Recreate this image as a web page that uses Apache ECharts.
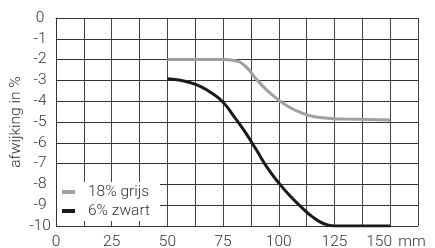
<!DOCTYPE html>
<html>
<head>
<meta charset="utf-8">
<script src="https://cdn.jsdelivr.net/npm/echarts@6/dist/echarts.min.js"></script>
<style>
  html, body { margin: 0; padding: 0; background: #fff; }
  #chart { width: 435px; height: 248px; }
</style>
</head>
<body>
<div id="chart"></div>
<script>
// afstand in mm
const grijsX = [50, 55, 60, 65, 70, 75, 80, 85, 90, 95, 100, 105, 110, 115, 120, 125, 130, 140, 150]
const grijsY = [-2, -2, -2, -2, -2, -2, -2.04, -2.32, -2.95, -3.5, -3.95, -4.3, -4.55, -4.72, -4.8, -4.84, -4.86, -4.88, -4.9]
const zwartX = [50, 55, 60, 65, 70, 75, 80, 85, 90, 95, 100, 105, 110, 115, 120, 125, 130, 140, 150]
const zwartY = [-2.92, -2.98, -3.1, -3.3, -3.62, -4.05, -4.75, -5.5, -6.35, -7.22, -7.93, -8.55, -9.08, -9.55, -9.88, -10, -10, -10, -10]
const seriesNames = ['18% grijs', '6% zwart']
const xLabelValues = [0, 25, 50, 75, 100, 125, 150]
const xUnit = 'mm'

const font = 'Roboto, "Liberation Sans", sans-serif'
const txt = { fontFamily: font, fontWeight: 300, fontSize: 15.5, color: '#333' }
const pair = (xs, ys) => xs.map((x, i) => [x, ys[i]])

const chart = echarts.init(document.getElementById('chart'))
chart.setOption({
  animation: false,
  grid: {
    left: 56,
    top: 18,
    right: 17,
    bottom: 22,
    outerBoundsMode: 'none'
  },
  legend: {
    orient: 'vertical',
    left: 57,
    top: 182,
    padding: [2, 10, 2, 5],
    itemGap: 3,
    itemWidth: 13,
    itemHeight: 4,
    backgroundColor: '#fff',
    data: seriesNames.map(n => ({ name: n, icon: 'rect' })),
    textStyle: Object.assign({}, txt, { padding: [0, 0, 0, 8] })
  },
  xAxis: {
    type: 'value',
    min: 0,
    max: 162.5,
    interval: 12.5,
    axisLine: { lineStyle: { color: '#333', width: 1 } },
    axisTick: { show: false },
    splitLine: { lineStyle: { color: '#444', width: 1 } },
    axisLabel: Object.assign({}, txt, {
      margin: 8,
      showMaxLabel: true,
      formatter (v) {
        if (v === 150) return '{a|150}'
        if (v === 162.5) return '{b|' + xUnit + '}'
        return xLabelValues.indexOf(v) >= 0 ? String(v) : ''
      },
      rich: {
        a: Object.assign({}, txt, { padding: [0, 22, 0, 0] }),
        b: Object.assign({}, txt, { padding: [0, 12, 0, 0] })
      }
    })
  },
  yAxis: {
    type: 'value',
    min: -10,
    max: 0,
    interval: 1,
    name: 'afwijking in %',
    nameLocation: 'middle',
    nameGap: 32,
    nameMoveOverlap: false,
    nameTextStyle: txt,
    axisLine: { show: true, lineStyle: { color: '#333', width: 1 } },
    axisTick: { show: false },
    splitLine: { lineStyle: { color: '#333', width: 1 } },
    axisLabel: Object.assign({}, txt, { margin: 16, align: 'center' })
  },
  series: [
    {
      name: seriesNames[0],
      type: 'line',
      smooth: true,
      showSymbol: false,
      data: pair(grijsX, grijsY),
      color: '#a0a0a0',
      lineStyle: { width: 3, color: '#a0a0a0' }
    },
    {
      name: seriesNames[1],
      type: 'line',
      smooth: true,
      showSymbol: false,
      data: pair(zwartX, zwartY),
      color: '#1a1a1a',
      lineStyle: { width: 3, color: '#1a1a1a' }
    }
  ]
})
</script>
</body>
</html>
